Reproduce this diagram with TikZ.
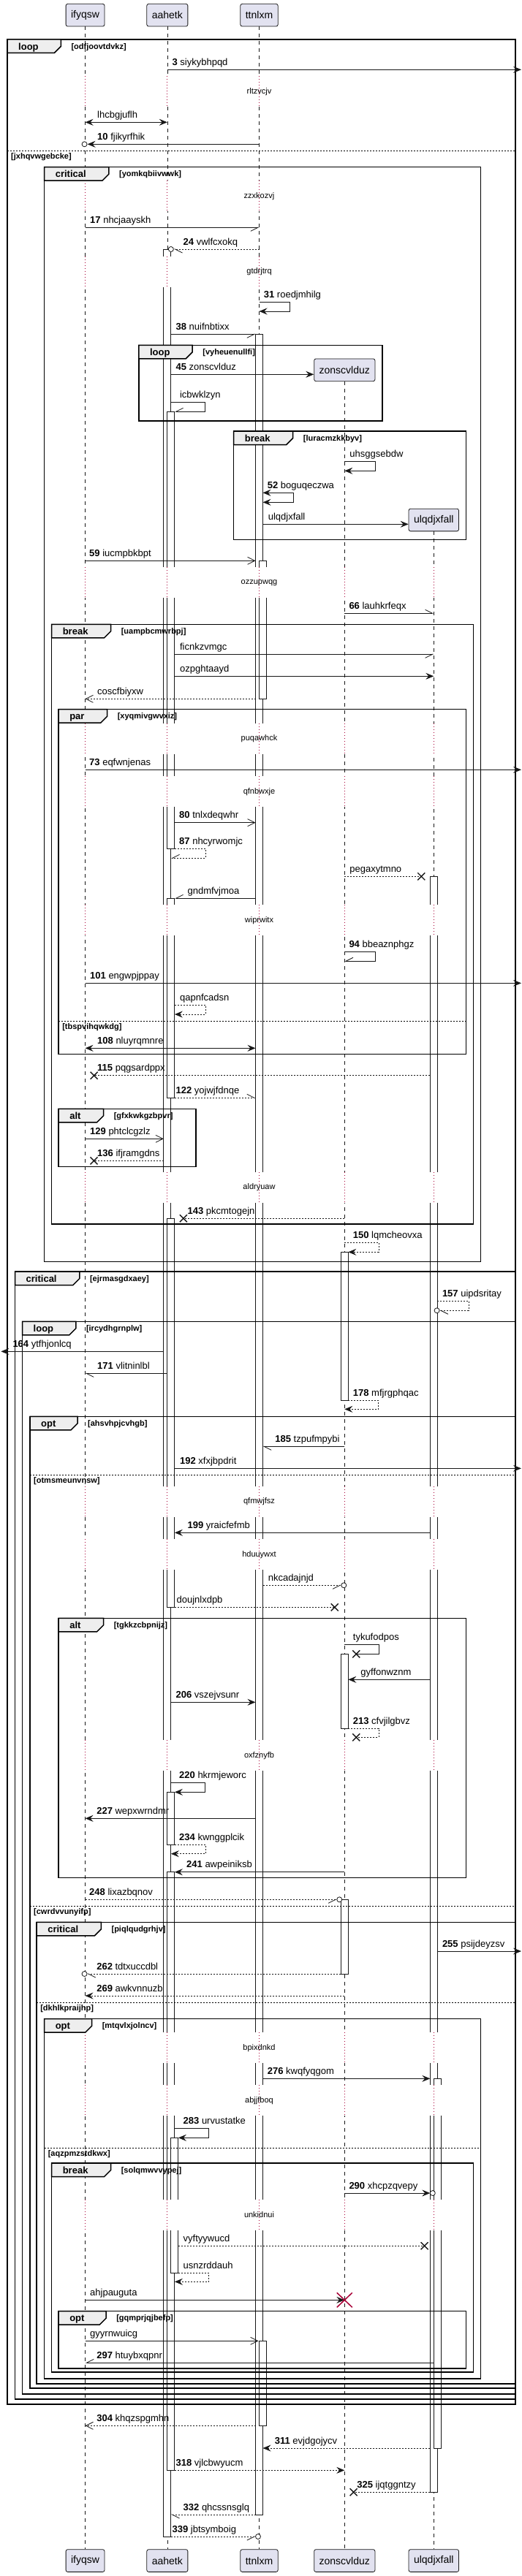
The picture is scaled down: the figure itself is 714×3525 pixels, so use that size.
\documentclass[tikz,border=0pt]{standalone}
\usepackage{fontspec}
\setmainfont{Liberation Sans}
\usetikzlibrary{arrows.meta}
\definecolor{ink}{HTML}{181818}
\definecolor{partfill}{HTML}{E2E2F0}
\definecolor{tabgray}{HTML}{EEEEEE}
\definecolor{delayred}{HTML}{A80036}

% frame: name, left, top, right, bottom, tab width, keyword, condition
\newcommand{\seqframe}[8]{%
  \draw[frm] (#2,#3) rectangle (#4,#5);
  \filldraw[frm, fill=tabgray] (#2,#3) -- (#2+#6,#3) -- (#2+#6,#3+9.5) -- (#2+#6-9,#3+18.5) -- (#2,#3+18.5) -- cycle;
  \node[kw] (#1) at (#2+15,#3+14) {#7};
  \node[cnd] (#1c) at (#2+#6+14,#3+13) {[#8]};
}
% else line: name, left, y, right, condition
\newcommand{\seqelse}[5]{%
  \draw[elsl] (#2,#3) -- (#4,#3);
  \node[cnd] (#1) at (#2+5,#3+11) {[#5]};
}
% delay: y, text, lifelines
\newcommand{\delayrow}[3]{%
  \fill[white] (95,#1-21) rectangle (615,#1+21);
  \foreach \p in {#3} \draw[dline] (\p |- 0,#1-21) -- (\p |- 0,#1+21);
  \node[dtext] (#2) at (354.5,#1) {#2};
}

\begin{document}
\begin{tikzpicture}[x=1pt, y=-1pt,
    part/.style={draw=ink, fill=partfill, rounded corners=2.5pt, minimum height=30.7pt, inner xsep=7pt, line width=0.8pt, font=\fontsize{14}{16}\selectfont},
    life/.style={draw=ink, line width=0.5pt, dash pattern=on 5pt off 5pt},
    act/.style={draw=ink, fill=white, line width=0.8pt},
    msg/.style={draw=ink, line width=0.8pt},
    dmsg/.style={msg, dash pattern=on 2pt off 2pt},
    fa/.style={-{Stealth[length=11pt,width=9pt,inset=4pt]}},
    fab/.style={{Stealth[length=11pt,width=9pt,inset=4pt]}-{Stealth[length=11pt,width=9pt,inset=4pt]}},
    oa/.style={-{Straight Barb[length=10pt,width=10pt]}},
    hl/.style={-{Straight Barb[length=10pt,width=10pt,left]}},
    hr/.style={-{Straight Barb[length=10pt,width=10pt,right]}},
    ring/.style={draw=ink, fill=white, line width=0.8pt},
    lbl/.style={anchor=base west, inner sep=0pt, font=\fontsize{13}{15}\selectfont},
    dtext/.style={inner sep=1pt, font=\fontsize{11}{13}\selectfont},
    dline/.style={draw=delayred, line width=0.8pt, dash pattern=on 1pt off 3pt},
    frm/.style={draw=black, line width=1.5pt},
    kw/.style={anchor=base west, inner sep=0pt, font=\bfseries\fontsize{13}{15}\selectfont},
    cnd/.style={anchor=base west, inner sep=0pt, font=\bfseries\fontsize{11}{13}\selectfont},
    elsl/.style={draw=black, line width=1pt, dash pattern=on 2pt off 2pt},
    lost/.pic={\draw[ink, line width=1.4pt] (-5,-5) -- (5,5) (-5,5) -- (5,-5);},
    kill/.pic={\draw[delayred, line width=1.5pt] (-10.5,-10) -- (10.5,10) (-10.5,10) -- (10.5,-10);}
  ]
  \fill[white] (0,0) rectangle (714,3525);
  \useasboundingbox (0,0) rectangle (714,3525);
  \coordinate (rim) at (713,0);
  \coordinate (lim) at (1.4,0);

  % participants
  \node[part] (ifyqsw) at (116.55,20.7) {ifyqsw};
  \node[part] (aahetk) at (228.85,20.7) {aahetk};
  \node[part] (ttnlxm) at (354.5,20.7) {ttnlxm};
  \node[part] (zonscvlduz) at (471.3,506.3) {zonscvlduz};
  \node[part] (ulqdjxfall) at (593.3,711.5) {ulqdjxfall};
  \node[part] (ifyqswB) at (116.55,3504) {ifyqsw};
  \node[part] (aahetkB) at (228.85,3504) {aahetk};
  \node[part] (ttnlxmB) at (354.5,3504) {ttnlxm};
  \node[part] (zonscvlduzB) at (471.3,3504) {zonscvlduz};
  \node[part] (ulqdjxfallB) at (593.3,3504) {ulqdjxfall};

  % lifelines
  \draw[life] (ifyqsw) -- (ifyqswB);
  \draw[life] (aahetk) -- (aahetkB);
  \draw[life] (ttnlxm) -- (ttnlxmB);
  \draw[life] (zonscvlduz) -- (zonscvlduzB);
  \draw[life] (ulqdjxfall) -- (ulqdjxfallB);

  % activations
  \draw[act] ([xshift=-5]aahetk |- 0,341) rectangle ([xshift=5]aahetk |- 0,3471);
  \draw[act] (aahetk |- 0,563.3) rectangle ([xshift=10]aahetk |- 0,1161.7);
  \draw[act] (aahetk |- 0,1229.3) rectangle ([xshift=10]aahetk |- 0,1502.3);
  \draw[act] (aahetk |- 0,1667.3) rectangle ([xshift=10]aahetk |- 0,2199.3);
  \draw[act] (aahetk |- 0,2452.3) rectangle ([xshift=10]aahetk |- 0,2524);
  \draw[act] (aahetk |- 0,2561.7) rectangle ([xshift=10]aahetk |- 0,3380.3);
  \draw[act] ([xshift=5]aahetk |- 0,2925.3) rectangle ([xshift=15]aahetk |- 0,3110);
  \draw[act] ([xshift=-5]ttnlxm |- 0,457.3) rectangle ([xshift=5]ttnlxm |- 0,3441);
  \draw[act] (ttnlxm |- 0,767.3) rectangle ([xshift=10]ttnlxm |- 0,956.3);
  \draw[act] (ttnlxm |- 0,3203.3) rectangle ([xshift=10]ttnlxm |- 0,3319.3);
  \draw[act] ([xshift=-5]zonscvlduz |- 0,1713.3) rectangle ([xshift=5]zonscvlduz |- 0,1916);
  \draw[act] ([xshift=-5]zonscvlduz |- 0,2263.3) rectangle ([xshift=5]zonscvlduz |- 0,2365);
  \draw[act] ([xshift=-5]zonscvlduz |- 0,2599.3) rectangle ([xshift=5]zonscvlduz |- 0,2701);
  \draw[act] ([xshift=-5]ulqdjxfall |- 0,1199.3) rectangle ([xshift=5]ulqdjxfall |- 0,3410.3);
  \draw[act] (ulqdjxfall |- 0,2844.3) rectangle ([xshift=10]ulqdjxfall |- 0,3350);

  % delays
  \delayrow{125.3}{rltzvcjv}{ifyqsw,aahetk,ttnlxm}
  \delayrow{268.3}{zzxkozvj}{ifyqsw,aahetk,ttnlxm}
  \delayrow{371.7}{gtdrjtrq}{ifyqsw,aahetk,ttnlxm}
  \delayrow{797.3}{ozzupwqg}{ifyqsw,aahetk,ttnlxm,zonscvlduz,ulqdjxfall}
  \delayrow{1011}{puqawhck}{ifyqsw,aahetk,ttnlxm,zonscvlduz,ulqdjxfall}
  \delayrow{1083.3}{qfnbwxje}{ifyqsw,aahetk,ttnlxm,zonscvlduz,ulqdjxfall}
  \delayrow{1259.3}{wiprwitx}{ifyqsw,aahetk,ttnlxm,zonscvlduz,ulqdjxfall}
  \delayrow{1625}{aldryuaw}{ifyqsw,aahetk,ttnlxm,zonscvlduz,ulqdjxfall}
  \delayrow{2055}{qfmwjfsz}{ifyqsw,aahetk,ttnlxm,zonscvlduz,ulqdjxfall}
  \delayrow{2127.3}{hduuywxt}{ifyqsw,aahetk,ttnlxm,zonscvlduz,ulqdjxfall}
  \delayrow{2402.3}{oxfznyfb}{ifyqsw,aahetk,ttnlxm,zonscvlduz,ulqdjxfall}
  \delayrow{2802.3}{bpixdnkd}{ifyqsw,aahetk,ttnlxm,zonscvlduz,ulqdjxfall}
  \delayrow{2874.3}{abjjfboq}{ifyqsw,aahetk,ttnlxm,zonscvlduz,ulqdjxfall}
  \delayrow{3031}{unkidnui}{ifyqsw,aahetk,ttnlxm,zonscvlduz,ulqdjxfall}

  % frames
  \seqframe{fA}{10}{54}{705}{3290}{73.3}{loop}{odfjoovtdvkz}
  \seqelse{eA}{10}{206.3}{705}{jxhqvwgebcke}
  \seqframe{fB}{60.6}{228.7}{657.5}{1726.7}{88.3}{critical}{yomkqbiivwwk}
  \seqframe{fC}{189.9}{472.3}{522.8}{576}{73.3}{loop}{vyheuenullfi}
  \seqframe{fD}{319.7}{590}{637.5}{738.7}{81}{break}{luracmzkkbyv}
  \seqframe{fE}{70.6}{854.3}{647.6}{1675}{81}{break}{uampbcmwrbpj}
  \seqframe{fF}{80.1}{970.7}{637.5}{1442.3}{66.5}{par}{xyqmivgwvxiz}
  \seqelse{eF}{80.1}{1397.3}{637.5}{tbspvihqwkdg}
  \seqframe{fG}{80.1}{1517.3}{267.8}{1596.7}{61.5}{alt}{gfxkwkgzbpvr}
  \seqframe{fH}{20.5}{1740}{705}{3283}{88.3}{critical}{ejrmasgdxaey}
  \seqframe{fI}{30.5}{1808.3}{705}{3276}{73.3}{loop}{ircydhgrnplw}
  \seqframe{fJ}{41}{1938.3}{705}{3268}{65}{opt}{ahsvhpjcvhgb}
  \seqelse{eJ}{41}{2018.3}{705}{otmsmeunvnsw}
  \seqelse{eJb}{41}{2608.3}{705}{cwrdvvunyifp}
  \seqframe{fK}{80.1}{2214.3}{637.5}{2569.3}{61.5}{alt}{tgkkzcbpnijz}
  \seqframe{fL}{50.1}{2630.3}{705}{3262}{88.3}{critical}{piqlqudgrhjv}
  \seqelse{eL}{50.1}{2740}{705}{dkhlkpraijhp}
  \seqframe{fM}{60.6}{2762.7}{657.5}{3255}{65}{opt}{mtqvlxjolncv}
  \seqelse{eM}{60.6}{2939.3}{657.5}{aqzpmzstdkwx}
  \seqframe{fN}{70.6}{2960}{647.6}{3246}{81}{break}{solqmwvvypej}
  \seqframe{fO}{80.1}{3162.7}{637.5}{3241}{65}{opt}{gqmprjqjbefp}

  % messages
  \draw[msg,fa] (aahetk |- 0,95.3) -- (rim |- 0,95.3);
  \node[lbl] (m3) at (235.4,89.3) {\textbf{3} siykybhpqd};
  \draw[msg,fab] (ifyqsw |- 0,167.3) -- (aahetk |- 0,167.3);
  \node[lbl] (lhcbgjuflh) at (133,161.3) {lhcbgjuflh};
  \draw[msg,fa] (ttnlxm |- 0,197.3) -- ([xshift=3]ifyqsw |- 0,197.3);
  \draw[ring] ([xshift=-1]ifyqsw |- 0,197.3) circle[radius=3.5];
  \node[lbl] (m10) at (133,191.3) {\textbf{10} fjikyrfhik};
  \draw[msg,hr] (ifyqsw |- 0,311.3) -- (ttnlxm |- 0,311.3);
  \node[lbl] (m17) at (123,305.3) {\textbf{17} nhcjaayskh};
  \draw[dmsg,hl] (ttnlxm |- 0,341) -- ([xshift=9]aahetk |- 0,341);
  \draw[ring] ([xshift=5]aahetk |- 0,341) circle[radius=3.5];
  \node[lbl] (m24) at (250.5,335) {\textbf{24} vwlfcxokq};
  \draw[msg,fa] (ttnlxm |- 0,413.3) -- ++(42,0) -- ++(0,12.7) -- (ttnlxm |- 0,426);
  \node[lbl] (m31) at (360.7,407.3) {\textbf{31} roedjmhilg};
  \draw[msg,hr] ([xshift=5]aahetk |- 0,457.3) -- ([xshift=-5]ttnlxm |- 0,457.3);
  \node[lbl] (m38) at (240.4,451.3) {\textbf{38} nuifnbtixx};
  \draw[msg,fa] ([xshift=5]aahetk |- 0,512.3) -- (zonscvlduz.west |- 0,512.3);
  \node[lbl] (m45) at (240.4,506.3) {\textbf{45} zonscvlduz};
  \draw[msg,hr] ([xshift=5]aahetk |- 0,550.7) -- ++(46.9,0) -- ++(0,12.6) -- ([xshift=10]aahetk |- 0,563.3);
  \node[lbl] (icbwklzyn) at (245.9,544.7) {icbwklzyn};
  \draw[msg,fa] (zonscvlduz |- 0,631.7) -- ++(42.4,0) -- ++(0,12.6) -- (zonscvlduz |- 0,644.3);
  \node[lbl] (uhsggsebdw) at (478.2,625.7) {uhsggsebdw};
  \draw[msg,fab] ([xshift=5]ttnlxm |- 0,674.3) -- ++(41.9,0) -- ++(0,13) -- ([xshift=5]ttnlxm |- 0,687.3);
  \node[lbl] (m52) at (365.7,668.3) {\textbf{52} boguqeczwa};
  \draw[msg,fa] ([xshift=5]ttnlxm |- 0,717.3) -- (ulqdjxfall.west |- 0,717.3);
  \node[lbl] (mulq) at (366.6,711.3) {ulqdjxfall};
  \draw[msg,oa] (ifyqsw |- 0,767.3) -- ([xshift=-5]ttnlxm |- 0,767.3);
  \node[lbl] (m59) at (122,761.3) {\textbf{59} iucmpbkbpt};
  \draw[msg,hl] (zonscvlduz |- 0,839.3) -- (ulqdjxfall |- 0,839.3);
  \node[lbl] (m66) at (477.3,833.3) {\textbf{66} lauhkrfeqx};
  \draw[msg,hr] ([xshift=10]aahetk |- 0,895.3) -- (ulqdjxfall |- 0,895.3);
  \node[lbl] (ficnkzvmgc) at (245.9,889.3) {ficnkzvmgc};
  \draw[msg,fa] ([xshift=10]aahetk |- 0,925.3) -- (ulqdjxfall |- 0,925.3);
  \node[lbl] (ozpghtaayd) at (245.9,919.3) {ozpghtaayd};
  \draw[dmsg,oa] ([xshift=-5]ttnlxm |- 0,956.3) -- (ifyqsw |- 0,956.3);
  \node[lbl] (coscfbiyxw) at (133,950.3) {coscfbiyxw};
  \draw[msg,fa] (ifyqsw |- 0,1053.3) -- (rim |- 0,1053.3);
  \node[lbl] (m73) at (122,1047.3) {\textbf{73} eqfwnjenas};
  \draw[msg,oa] ([xshift=10]aahetk |- 0,1125.7) -- ([xshift=-5]ttnlxm |- 0,1125.7);
  \node[lbl] (m80) at (245,1119.7) {\textbf{80} tnlxdeqwhr};
  \draw[dmsg,hr] ([xshift=10]aahetk |- 0,1161.7) -- ++(42.3,0) -- ++(0,12.6) -- ([xshift=5]aahetk |- 0,1174.3);
  \node[lbl] (m87) at (245,1155.7) {\textbf{87} nhcyrwomjc};
  \draw[dmsg] (zonscvlduz |- 0,1199.3) -- ([xshift=-17]ulqdjxfall |- 0,1199.3);
  \pic at ([xshift=-17]ulqdjxfall |- 0,1199.3) {lost};
  \node[lbl] (pegaxytmno) at (478.2,1193.3) {pegaxytmno};
  \draw[msg,hr] ([xshift=-5]ttnlxm |- 0,1229.3) -- ([xshift=10]aahetk |- 0,1229.3);
  \node[lbl] (gndmfvjmoa) at (256.4,1223.3) {gndmfvjmoa};
  \draw[msg,hr] (zonscvlduz |- 0,1302.3) -- ++(42.4,0) -- ++(0,13) -- (zonscvlduz |- 0,1315.3);
  \node[lbl] (m94) at (477.3,1296.3) {\textbf{94} bbeaznphgz};
  \draw[msg,fa] (ifyqsw |- 0,1345.3) -- (rim |- 0,1345.3);
  \node[lbl] (m101) at (123,1339.3) {\textbf{101} engwpjppay};
  \draw[dmsg,fa] ([xshift=10]aahetk |- 0,1375.3) -- ++(42.3,0) -- ++(0,12.7) -- ([xshift=10]aahetk |- 0,1388);
  \node[lbl] (qapnfcadsn) at (245.9,1369.3) {qapnfcadsn};
  \draw[msg,fab] (ifyqsw |- 0,1434.3) -- ([xshift=-5]ttnlxm |- 0,1434.3);
  \node[lbl] (m108) at (133,1428.3) {\textbf{108} nluyrqmnre};
  \draw[dmsg] ([xshift=-5]ulqdjxfall |- 0,1471.7) -- ([xshift=12]ifyqsw |- 0,1471.7);
  \pic at ([xshift=12]ifyqsw |- 0,1471.7) {lost};
  \node[lbl] (m115) at (133,1465.7) {\textbf{115} pqgsardppx};
  \draw[dmsg,hl] ([xshift=10]aahetk |- 0,1502.3) -- ([xshift=-5]ttnlxm |- 0,1502.3);
  \node[lbl] (m122) at (240.4,1496.3) {\textbf{122} yojwjfdnqe};
  \draw[msg,oa] (ifyqsw |- 0,1558.3) -- ([xshift=-5]aahetk |- 0,1558.3);
  \node[lbl] (m129) at (123,1552.3) {\textbf{129} phtclcgzlz};
  \draw[dmsg] ([xshift=-5]aahetk |- 0,1588.3) -- ([xshift=12]ifyqsw |- 0,1588.3);
  \pic at ([xshift=12]ifyqsw |- 0,1588.3) {lost};
  \node[lbl] (m136) at (133,1582.3) {\textbf{136} ifjramgdns};
  \draw[dmsg] (zonscvlduz |- 0,1667.3) -- ([xshift=22]aahetk |- 0,1667.3);
  \pic at ([xshift=22]aahetk |- 0,1667.3) {lost};
  \node[lbl] (m143) at (256.4,1661.3) {\textbf{143} pkcmtogejn};
  \draw[dmsg,fa] (zonscvlduz |- 0,1700) -- ++(46.9,0) -- ++(0,13.3) -- ([xshift=5]zonscvlduz |- 0,1713.3);
  \node[lbl] (m150) at (482.7,1694) {\textbf{150} lqmcheovxa};
  \draw[dmsg,hl] ([xshift=5]ulqdjxfall |- 0,1780) -- ++(42.8,0) -- ++(0,13.3) -- ([xshift=8]ulqdjxfall |- 0,1793.3);
  \draw[ring] ([xshift=4.3]ulqdjxfall |- 0,1793.3) circle[radius=3.5];
  \node[lbl] (m157) at (604.8,1774) {\textbf{157} uipdsritay};
  \draw[msg,fa] ([xshift=-5]aahetk |- 0,1849.3) -- (lim |- 0,1849.3);
  \node[lbl] (m164) at (17.3,1843.3) {\textbf{164} ytfhjonlcq};
  \draw[msg,hl] (aahetk |- 0,1879.3) -- (ifyqsw |- 0,1879.3);
  \node[lbl] (m171) at (133,1873.3) {\textbf{171} vlitninlbl};
  \draw[dmsg,fa] ([xshift=5]zonscvlduz |- 0,1916) -- ++(41.4,0) -- ++(0,12.3) -- (zonscvlduz |- 0,1928.3);
  \node[lbl] (m178) at (482.7,1910) {\textbf{178} mfjrgphqac};
  \draw[msg,hl] (zonscvlduz |- 0,1979.3) -- ([xshift=5]ttnlxm |- 0,1979.3);
  \node[lbl] (m185) at (376.2,1973.3) {\textbf{185} tzpufmpybi};
  \draw[msg,fa] ([xshift=10]aahetk |- 0,2009.3) -- (rim |- 0,2009.3);
  \node[lbl] (m192) at (245.9,2003.3) {\textbf{192} xfxjbpdrit};
  \draw[msg,fa] ([xshift=-5]ulqdjxfall |- 0,2097.3) -- ([xshift=10]aahetk |- 0,2097.3);
  \node[lbl] (m199) at (256.4,2091.3) {\textbf{199} yraicfefmb};
  \draw[dmsg,hr] ([xshift=5]ttnlxm |- 0,2169.3) -- ([xshift=-4.5]zonscvlduz |- 0,2169.3);
  \draw[ring] ([xshift=-1]zonscvlduz |- 0,2169.3) circle[radius=3.5];
  \node[lbl] (nkcadajnjd) at (366.6,2163.3) {nkcadajnjd};
  \draw[dmsg] ([xshift=10]aahetk |- 0,2199.3) -- ([xshift=-13.6]zonscvlduz |- 0,2199.3);
  \pic at ([xshift=-13.6]zonscvlduz |- 0,2199.3) {lost};
  \node[lbl] (doujnlxdpb) at (241.4,2193.3) {doujnlxdpb};
  \draw[msg] (zonscvlduz |- 0,2250.7) -- ++(46.9,0) -- ++(0,12.6) -- ([xshift=16]zonscvlduz |- 0,2263.3);
  \pic at ([xshift=16]zonscvlduz |- 0,2263.3) {lost};
  \node[lbl] (tykufodpos) at (482.7,2244.7) {tykufodpos};
  \draw[msg,fa] ([xshift=-5]ulqdjxfall |- 0,2298.3) -- ([xshift=5]zonscvlduz |- 0,2298.3);
  \node[lbl] (gyffonwznm) at (493.2,2292.3) {gyffonwznm};
  \draw[msg,fa] ([xshift=5]aahetk |- 0,2329.3) -- ([xshift=-5]ttnlxm |- 0,2329.3);
  \node[lbl] (m206) at (240.4,2323.3) {\textbf{206} vszejvsunr};
  \draw[dmsg] ([xshift=5]zonscvlduz |- 0,2365) -- ++(41.9,0) -- ++(0,12.3) -- ([xshift=16]zonscvlduz |- 0,2377.3);
  \pic at ([xshift=16]zonscvlduz |- 0,2377.3) {lost};
  \node[lbl] (m213) at (482.7,2359) {\textbf{213} cfvjilgbvz};
  \draw[msg,fa] ([xshift=5]aahetk |- 0,2439.3) -- ++(46.9,0) -- ++(0,13) -- ([xshift=10]aahetk |- 0,2452.3);
  \node[lbl] (m220) at (245,2433.3) {\textbf{220} hkrmjeworc};
  \draw[msg,fa] ([xshift=-5]ttnlxm |- 0,2488.3) -- (ifyqsw |- 0,2488.3);
  \node[lbl] (m227) at (132.1,2482.3) {\textbf{227} wepxwrndmr};
  \draw[dmsg,fa] ([xshift=10]aahetk |- 0,2524) -- ++(42.3,0) -- ++(0,12.7) -- ([xshift=5]aahetk |- 0,2536.7);
  \node[lbl] (m234) at (245,2518) {\textbf{234} kwnggplcik};
  \draw[msg,fa] (zonscvlduz |- 0,2561.7) -- ([xshift=10]aahetk |- 0,2561.7);
  \node[lbl] (m241) at (255,2555.7) {\textbf{241} awpeiniksb};
  \draw[dmsg,hr] (ifyqsw |- 0,2599.3) -- ([xshift=-10.5]zonscvlduz |- 0,2599.3);
  \draw[ring] ([xshift=-7]zonscvlduz |- 0,2599.3) circle[radius=3.5];
  \node[lbl] (m248) at (122,2593.3) {\textbf{248} lixazbqnov};
  \draw[msg,fa] ([xshift=5]ulqdjxfall |- 0,2670) -- (rim |- 0,2670);
  \node[lbl] (m255) at (604.8,2664) {\textbf{255} psijdeyzsv};
  \draw[dmsg,hl] ([xshift=-5]zonscvlduz |- 0,2701) -- ([xshift=2.5]ifyqsw |- 0,2701);
  \draw[ring] ([xshift=-1]ifyqsw |- 0,2701) circle[radius=3.5];
  \node[lbl] (m262) at (132.1,2695) {\textbf{262} tdtxuccdbl};
  \draw[dmsg,fa] (zonscvlduz |- 0,2731) -- (ifyqsw |- 0,2731);
  \node[lbl] (m269) at (132.1,2725) {\textbf{269} awkvnnuzb};
  \draw[msg,fa] ([xshift=5]ttnlxm |- 0,2844.3) -- ([xshift=-5]ulqdjxfall |- 0,2844.3);
  \node[lbl] (m276) at (365.7,2838.3) {\textbf{276} kwqfyqgom};
  \draw[msg,fa] ([xshift=10]aahetk |- 0,2912.7) -- ++(47,0) -- ++(0,12.6) -- ([xshift=15]aahetk |- 0,2925.3);
  \node[lbl] (m283) at (250.5,2906.7) {\textbf{283} urvustatke};
  \draw[msg,fa] (zonscvlduz |- 0,3001) -- ([xshift=-5]ulqdjxfall |- 0,3001);
  \draw[ring] ([xshift=-1.5]ulqdjxfall |- 0,3001) circle[radius=3.5];
  \node[lbl] (m290) at (477.3,2995) {\textbf{290} xhcpzqvepy};
  \draw[dmsg] ([xshift=15]aahetk |- 0,3073.3) -- ([xshift=-12.7]ulqdjxfall |- 0,3073.3);
  \pic at ([xshift=-12.7]ulqdjxfall |- 0,3073.3) {lost};
  \node[lbl] (vyftyywucd) at (250.5,3067.3) {vyftyywucd};
  \draw[dmsg,fa] ([xshift=15]aahetk |- 0,3110) -- ++(41.5,0) -- ++(0,12.3) -- ([xshift=10]aahetk |- 0,3122.3);
  \node[lbl] (usnzrddauh) at (250.5,3104) {usnzrddauh};
  \draw[msg,fa] (ifyqsw |- 0,3147.3) -- (zonscvlduz |- 0,3147.3);
  \pic at (zonscvlduz |- 0,3147.3) {kill};
  \node[lbl] (ahjpauguta) at (123,3141.3) {ahjpauguta};
  \draw[msg,oa] (ifyqsw |- 0,3203.3) -- ([xshift=-1]ttnlxm |- 0,3203.3);
  \node[lbl] (gyyrnwuicg) at (123,3197.3) {gyyrnwuicg};
  \draw[msg,hr] (ulqdjxfall |- 0,3233.3) -- (ifyqsw |- 0,3233.3);
  \node[lbl] (m297) at (132.1,3227.3) {\textbf{297} htuybxqpnr};
  \draw[dmsg,oa] ([xshift=-5]ttnlxm |- 0,3319.3) -- (ifyqsw |- 0,3319.3);
  \node[lbl] (m304) at (132.1,3313.3) {\textbf{304} khqzspgmhn};
  \draw[dmsg,fa] ([xshift=-5]ulqdjxfall |- 0,3350) -- ([xshift=5]ttnlxm |- 0,3350);
  \node[lbl] (m311) at (375.7,3344) {\textbf{311} evjdgojycv};
  \draw[dmsg,fa] ([xshift=10]aahetk |- 0,3380.3) -- (zonscvlduz |- 0,3380.3);
  \node[lbl] (m318) at (240.4,3374.3) {\textbf{318} vjlcbwyucm};
  \draw[dmsg] ([xshift=-5]ulqdjxfall |- 0,3410.3) -- ([xshift=12.3]zonscvlduz |- 0,3410.3);
  \pic at ([xshift=12.3]zonscvlduz |- 0,3410.3) {lost};
  \node[lbl] (m325) at (488.2,3404.3) {\textbf{325} ijqtggntzy};
  \draw[dmsg,hl] ([xshift=-5]ttnlxm |- 0,3441) -- ([xshift=5]aahetk |- 0,3441);
  \node[lbl] (m332) at (250.5,3435) {\textbf{332} qhcssnsglq};
  \draw[dmsg,hr] ([xshift=5]aahetk |- 0,3471) -- ([xshift=-5]ttnlxm |- 0,3471);
  \draw[ring] ([xshift=-1.5]ttnlxm |- 0,3471) circle[radius=3.5];
  \node[lbl] (m339) at (235.4,3465) {\textbf{339} jbtsymboig};
\end{tikzpicture}
\end{document}
